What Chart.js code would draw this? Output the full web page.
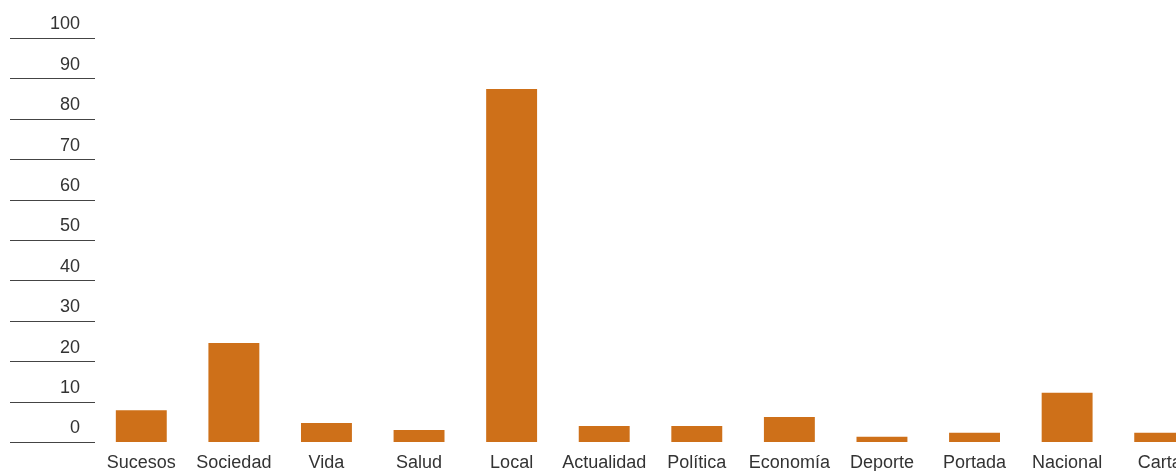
<!DOCTYPE html>
<html>
<head>
<meta charset="utf-8">
<script src="https://cdn.jsdelivr.net/npm/chart.js@4/dist/chart.umd.min.js"></script>
<style>
  html, body { margin: 0; padding: 0; background: #fff; overflow: hidden; }
  #wrap { position: relative; width: 1206px; height: 471px; }
</style>
</head>
<body>
<div id="wrap"><canvas id="c"></canvas></div>
<script>
const categories = ["Sucesos", "Sociedad", "Vida", "Salud", "Local", "Actualidad", "Política", "Economía", "Deporte", "Portada", "Nacional", "Carta"];
const values = [8.0, 24.6, 4.8, 3.1, 87.5, 4.1, 4.1, 6.3, 1.4, 2.4, 12.3, 2.4];
const yMin = 0, yMax = 100, yStep = 10;

const FONT = "'Liberation Sans', Arial, Helvetica, sans-serif";

new Chart(document.getElementById('c'), {
  type: 'bar',
  data: {
    labels: categories,
    datasets: [{
      data: values,
      backgroundColor: '#CE7019',
      borderWidth: 0,
      categoryPercentage: 1.0,
      barPercentage: 0.55
    }]
  },
  options: {
    responsive: true,
    maintainAspectRatio: false,
    animation: false,
    layout: { padding: { top: 38.5, left: 0, right: 0, bottom: 0 } },
    plugins: { legend: { display: false }, tooltip: { enabled: false } },
    scales: {
      x: {
        grid: { display: false, drawTicks: false },
        border: { display: false },
        ticks: { color: '#333', font: { family: FONT, size: 18 }, padding: 10, maxRotation: 0, autoSkip: false },
        afterFit: (s) => { s.height = 28.5; }
      },
      y: {
        min: yMin, max: yMax,
        grid: { drawOnChartArea: false, drawTicks: true, tickLength: 85, tickColor: '#444', tickWidth: 1 },
        border: { display: false },
        ticks: { stepSize: yStep, color: '#333', font: { family: FONT, size: 18 }, padding: -70, labelOffset: -14 },
        afterFit: (s) => { s.width = 95; }
      }
    }
  }
});
</script>
</body>
</html>
